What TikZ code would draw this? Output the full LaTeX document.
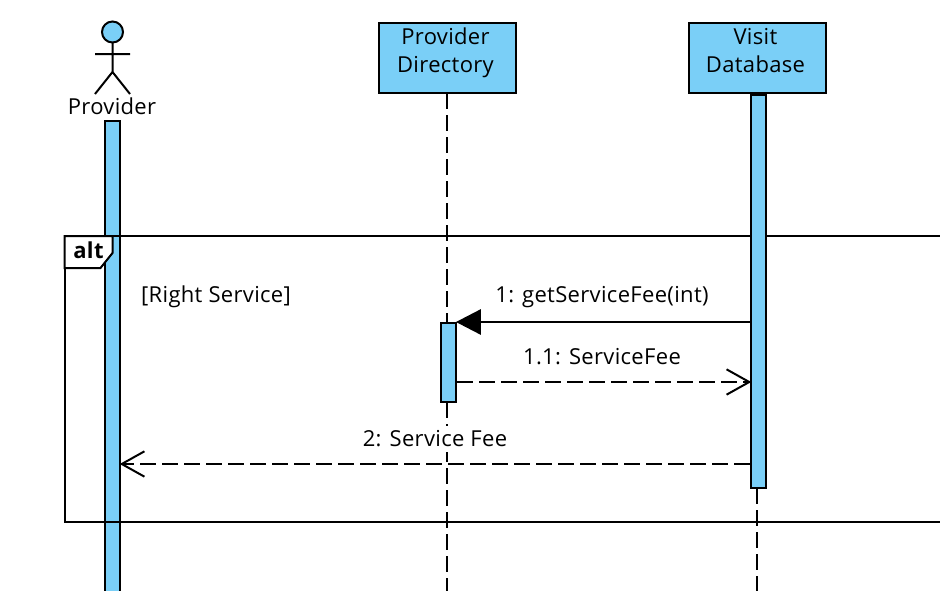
\documentclass[tikz,border=0pt]{standalone}
\usepackage{fontspec}
\setmainfont{Open Sans}[LetterSpace=1.5]
\usetikzlibrary{arrows.meta}
\definecolor{lightblue}{RGB}{122,207,247}
\tikzset{
  x=0.75pt,y=-0.75pt,
  ln/.style={line width=1.5pt,black},
  dashline/.style={ln,dash pattern=on 12pt off 4.5pt},
  box/.style={draw=black,line width=1.5pt,fill=lightblue,inner sep=0pt,minimum width=102.75pt,minimum height=52.5pt,align=center,font=\fontsize{16.5}{21}\selectfont},
  bar/.style={draw=black,line width=1.5pt,fill=lightblue,inner sep=0pt,minimum width=11.7pt},
  txt/.style={inner sep=0pt,font=\fontsize{16.5}{21}\selectfont,text=black},
  solidtip/.style={-{Triangle[length=18.75pt,width=19pt,fill=black]},shorten >=-1pt},
  opentip/.style={-{Straight Barb[length=17pt,width=19pt,line width=1.5pt]},shorten >=-1.2pt},
}
\begin{document}
\begin{tikzpicture}
\clip (0,0) rectangle (940,590);
\fill[white] (0,0) rectangle (940,590);
% lifeline heads
\node[box] (dir) at (447.5,58) {Provider\kern3pt\\Directory\kern3pt\\[-9pt]\mbox{}};
\node[box] (visit) at (757.5,58) {Visit\kern3pt\\Database\kern3pt\\[-9pt]\mbox{}};
\coordinate (dirEnd) at (446.5,592);
\coordinate (visitEnd) at (756.5,592);
\coordinate (dirTop) at (446.5,93);
\coordinate (visitTop) at (756.5,93);
\draw[dashline] (dirTop) -- (446.5,322);
\draw[dashline] (446.5,402) -- (dirEnd);
\draw[dashline] (756.5,488) -- (visitEnd);
% actor
\draw[ln,fill=lightblue] (112.5,32) circle[radius=10.5];
\node[inner sep=0pt,minimum size=0pt] (head) at (112.5,42.5) {};
\coordinate (hip) at (112.5,72);
\coordinate (armL) at (95,54);
\coordinate (armR) at (130,54);
\coordinate (legL) at (95,94);
\coordinate (legR) at (130,94);
\draw[ln] (head) -- (hip) (armL) -- (armR) (legL) -- (hip) -- (legR);
\node[txt] (prov) at (112,106) {Provider};
% provider bar lies under the frame
\node[bar,minimum height=480pt,anchor=north] (provBar) at (112.5,120) {};
% frame
\coordinate (frTL) at (64.5,236);
\coordinate (frBL) at (64.5,522);
\coordinate (frTR) at (942,236);
\coordinate (frBR) at (942,522);
\draw[ln] (frTR) -- (frTL) -- (frBL) -- (frBR);
\draw[ln,fill=white] (64.5,236) -- (112.5,236) -- (112.5,253) -- (100.5,268) -- (64.5,268) -- cycle;
\node[txt,font=\fontsize{16.5}{20}\bfseries\selectfont] (alt) at (88.5,250.5) {alt};
\node[txt] (guard) at (216,296.5) {[Right Service]};
% other activation bars lie over the frame
\node[bar,minimum height=59.25pt,anchor=north] (dirBar) at (448.5,322) {};
\node[bar,minimum height=294.75pt,anchor=north] (visitBar) at (758.5,94) {};
% messages
\coordinate (m1s) at (visitBar.west |- 0,322);
\coordinate (m1e) at (dirBar.east |- 0,322);
\coordinate (m2s) at (dirBar.east |- 0,382);
\coordinate (m2e) at (visitBar.west |- 0,382);
\coordinate (m3s) at (visitBar.west |- 0,464);
\coordinate (m3e) at (provBar.east |- 0,464);
\node[txt] (l1) at (602,297) {1: getServiceFee(int)};
\node[txt] (l2) at (602,357) {1.1: ServiceFee};
\node[txt,fill=white,minimum height=20pt] (l3) at (435,439) {2: Service Fee};
\draw[ln,solidtip] (m1s) -- (m1e);
\draw[dashline,opentip] (m2s) -- (m2e);
\draw[dashline,opentip] (m3s) -- (m3e);
\end{tikzpicture}
\end{document}
